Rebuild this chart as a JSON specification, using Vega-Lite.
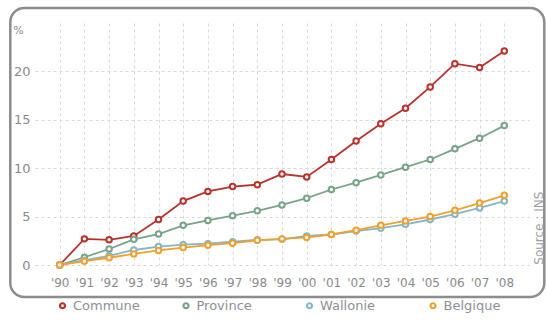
{
  "$schema": "https://vega.github.io/schema/vega-lite/v6.json",
  "width": 494,
  "height": 242,
  "autosize": {"type": "none"},
  "padding": {"left": 35, "top": 23, "right": 18, "bottom": 55},
  "background": "white",
  "config": {
    "font": "DejaVu Sans",
    "view": {"stroke": null},
    "axis": {"labelFont": "DejaVu Sans", "labelColor": "#8a8a8a", "gridColor": "#d9d9d9", "gridDash": [3, 3], "gridWidth": 1, "domain": false, "ticks": false}
  },
  "data": {
    "values": [
      {"year": 1990, "series": "Commune", "value": 0},
      {"year": 1991, "series": "Commune", "value": 2.7},
      {"year": 1992, "series": "Commune", "value": 2.6},
      {"year": 1993, "series": "Commune", "value": 3.0},
      {"year": 1994, "series": "Commune", "value": 4.7},
      {"year": 1995, "series": "Commune", "value": 6.6},
      {"year": 1996, "series": "Commune", "value": 7.6},
      {"year": 1997, "series": "Commune", "value": 8.1},
      {"year": 1998, "series": "Commune", "value": 8.3},
      {"year": 1999, "series": "Commune", "value": 9.4},
      {"year": 2000, "series": "Commune", "value": 9.1},
      {"year": 2001, "series": "Commune", "value": 10.9},
      {"year": 2002, "series": "Commune", "value": 12.8},
      {"year": 2003, "series": "Commune", "value": 14.6},
      {"year": 2004, "series": "Commune", "value": 16.2},
      {"year": 2005, "series": "Commune", "value": 18.4},
      {"year": 2006, "series": "Commune", "value": 20.8},
      {"year": 2007, "series": "Commune", "value": 20.4},
      {"year": 2008, "series": "Commune", "value": 22.1},
      {"year": 1990, "series": "Province", "value": 0},
      {"year": 1991, "series": "Province", "value": 0.8},
      {"year": 1992, "series": "Province", "value": 1.65},
      {"year": 1993, "series": "Province", "value": 2.65},
      {"year": 1994, "series": "Province", "value": 3.2},
      {"year": 1995, "series": "Province", "value": 4.1},
      {"year": 1996, "series": "Province", "value": 4.6},
      {"year": 1997, "series": "Province", "value": 5.1},
      {"year": 1998, "series": "Province", "value": 5.6},
      {"year": 1999, "series": "Province", "value": 6.2},
      {"year": 2000, "series": "Province", "value": 6.9},
      {"year": 2001, "series": "Province", "value": 7.8},
      {"year": 2002, "series": "Province", "value": 8.5},
      {"year": 2003, "series": "Province", "value": 9.3},
      {"year": 2004, "series": "Province", "value": 10.1},
      {"year": 2005, "series": "Province", "value": 10.9},
      {"year": 2006, "series": "Province", "value": 12.0},
      {"year": 2007, "series": "Province", "value": 13.1},
      {"year": 2008, "series": "Province", "value": 14.4},
      {"year": 1990, "series": "Wallonie", "value": 0},
      {"year": 1991, "series": "Wallonie", "value": 0.5},
      {"year": 1992, "series": "Wallonie", "value": 0.95},
      {"year": 1993, "series": "Wallonie", "value": 1.55},
      {"year": 1994, "series": "Wallonie", "value": 1.9},
      {"year": 1995, "series": "Wallonie", "value": 2.1},
      {"year": 1996, "series": "Wallonie", "value": 2.2},
      {"year": 1997, "series": "Wallonie", "value": 2.4},
      {"year": 1998, "series": "Wallonie", "value": 2.6},
      {"year": 1999, "series": "Wallonie", "value": 2.65},
      {"year": 2000, "series": "Wallonie", "value": 3.0},
      {"year": 2001, "series": "Wallonie", "value": 3.15},
      {"year": 2002, "series": "Wallonie", "value": 3.5},
      {"year": 2003, "series": "Wallonie", "value": 3.8},
      {"year": 2004, "series": "Wallonie", "value": 4.2},
      {"year": 2005, "series": "Wallonie", "value": 4.7},
      {"year": 2006, "series": "Wallonie", "value": 5.25},
      {"year": 2007, "series": "Wallonie", "value": 5.9},
      {"year": 2008, "series": "Wallonie", "value": 6.6},
      {"year": 1990, "series": "Belgique", "value": 0},
      {"year": 1991, "series": "Belgique", "value": 0.4},
      {"year": 1992, "series": "Belgique", "value": 0.75},
      {"year": 1993, "series": "Belgique", "value": 1.15},
      {"year": 1994, "series": "Belgique", "value": 1.5},
      {"year": 1995, "series": "Belgique", "value": 1.8},
      {"year": 1996, "series": "Belgique", "value": 2.05},
      {"year": 1997, "series": "Belgique", "value": 2.25},
      {"year": 1998, "series": "Belgique", "value": 2.55},
      {"year": 1999, "series": "Belgique", "value": 2.7},
      {"year": 2000, "series": "Belgique", "value": 2.85},
      {"year": 2001, "series": "Belgique", "value": 3.15},
      {"year": 2002, "series": "Belgique", "value": 3.6},
      {"year": 2003, "series": "Belgique", "value": 4.1},
      {"year": 2004, "series": "Belgique", "value": 4.55},
      {"year": 2005, "series": "Belgique", "value": 5.0},
      {"year": 2006, "series": "Belgique", "value": 5.65},
      {"year": 2007, "series": "Belgique", "value": 6.4},
      {"year": 2008, "series": "Belgique", "value": 7.2}
    ]
  },
  "layer": [
    {
      "mark": {"type": "line", "strokeWidth": 1.8},
      "encoding": {
        "x": {
          "field": "year", "type": "quantitative",
          "scale": {"domain": [1989, 2009], "nice": false, "zero": false},
          "axis": {
            "title": null, "values": [1990,1991,1992,1993,1994,1995,1996,1997,1998,1999,2000,2001,2002,2003,2004,2005,2006,2007,2008],
            "labelExpr": "\"'\" + slice(toString(datum.value), 2)",
            "labelFontSize": 12, "labelPadding": 12, "labelFlush": false, "labelOverlap": false
          }
        },
        "y": {
          "field": "value", "type": "quantitative",
          "scale": {"domain": [0, 25], "nice": false},
          "axis": {
            "title": "%", "titleAngle": 0, "titleX": -17, "titleY": 7, "titleAlign": "center", "titleBaseline": "middle",
            "titleFont": "DejaVu Sans", "titleFontWeight": "normal", "titleFontSize": 11, "titleColor": "#8a8a8a",
            "values": [0, 5, 10, 15, 20], "labelFontSize": 13, "labelPadding": 5
          }
        },
        "color": {"field": "series", "type": "nominal",
          "scale": {"domain": ["Commune", "Province", "Wallonie", "Belgique"], "range": ["#b8322b", "#78a386", "#86b5c8", "#f0a02c"]},
          "legend": {
            "title": null, "orient": "none", "legendX": 21, "legendY": 276, "direction": "horizontal", "columns": 4,
            "gridAlign": "all", "columnPadding": 38.5, "symbolType": "circle", "symbolSize": 25, "symbolStrokeWidth": 2.2,
            "symbolFillColor": "white", "labelFontSize": 13, "labelColor": "#8c9098", "labelFont": "DejaVu Sans", "labelOffset": 4
          }
        }
      }
    },
    {
      "mark": {"type": "point", "shape": "circle", "filled": false, "fill": "white", "fillOpacity": 1, "size": 30, "strokeWidth": 2, "opacity": 1},
      "encoding": {
        "x": {"field": "year", "type": "quantitative", "axis": {"title": null, "values": [1990,1991,1992,1993,1994,1995,1996,1997,1998,1999,2000,2001,2002,2003,2004,2005,2006,2007,2008], "labelExpr": "\"'\" + slice(toString(datum.value), 2)", "labelFontSize": 12, "labelPadding": 12, "labelFlush": false, "labelOverlap": false}},
        "y": {"field": "value", "type": "quantitative"},
        "color": {"field": "series", "type": "nominal"}
      }
    },
    {
      "data": {"values": [{"label": "Source : INS"}]},
      "mark": {"type": "rect", "fill": null, "stroke": "#8c8c8c", "strokeWidth": 2.5, "cornerRadius": 14, "clip": false},
      "encoding": {
        "x": {"datum": 1988, "type": "quantitative", "axis": {"title": null, "values": [1990,1991,1992,1993,1994,1995,1996,1997,1998,1999,2000,2001,2002,2003,2004,2005,2006,2007,2008], "labelExpr": "\"'\" + slice(toString(datum.value), 2)", "labelFontSize": 12, "labelPadding": 12, "labelFlush": false, "labelOverlap": false}},
        "x2": {"datum": 2009.62},
        "y": {"datum": 26.55, "type": "quantitative"}, "y2": {"datum": -3.3}
      }
    },
    {
      "data": {"values": [{"label": "Source : INS"}]},
      "mark": {"type": "text", "angle": 270, "align": "center", "baseline": "middle", "fontSize": 12, "color": "#a0a0a0"},
      "encoding": {
        "x": {"datum": 2009.4, "type": "quantitative", "axis": {"title": null, "values": [1990,1991,1992,1993,1994,1995,1996,1997,1998,1999,2000,2001,2002,2003,2004,2005,2006,2007,2008], "labelExpr": "\"'\" + slice(toString(datum.value), 2)", "labelFontSize": 12, "labelPadding": 12, "labelFlush": false, "labelOverlap": false}},
        "y": {"datum": 3.8, "type": "quantitative"},
        "text": {"field": "label"}
      }
    }
  ]
}
